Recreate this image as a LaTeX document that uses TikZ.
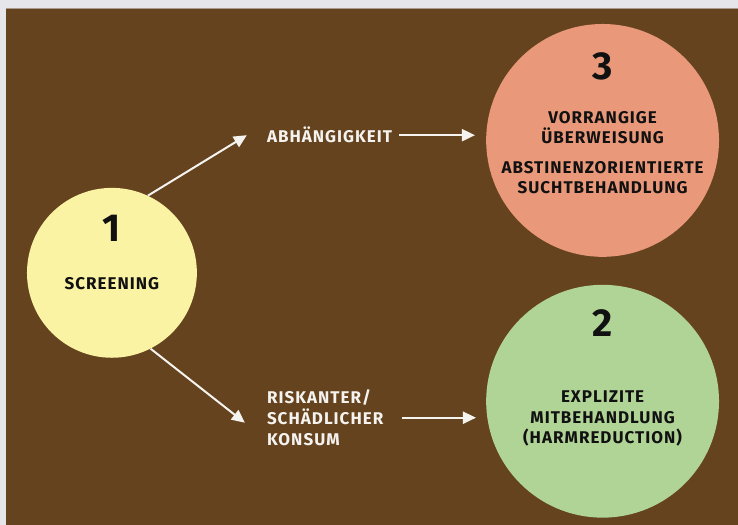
\documentclass[tikz,border=0pt]{standalone}
\usepackage{fontspec}
\setmainfont{Fira Sans}
\newfontfamily\spacedfont{Fira Sans}[LetterSpace=6]
\usepackage{tikz}
\usetikzlibrary{arrows.meta}
\definecolor{bgbrown}{HTML}{65431E}
\definecolor{bggrey}{HTML}{E6E6EA}
\definecolor{topline}{HTML}{A89A8C}
\definecolor{screenyellow}{HTML}{F9F3A3}
\definecolor{depsalmon}{HTML}{EA987A}
\definecolor{harmgreen}{HTML}{B0D396}
\definecolor{ink}{HTML}{111111}
\definecolor{paper}{HTML}{F5F3EF}

\begin{document}
\begin{tikzpicture}[x=1pt,y=-1pt,
    stage/.style={circle,inner sep=0pt},
    num/.style={inner sep=0pt,text=ink,font=\bfseries\fontsize{39}{39}\selectfont},
    txt/.style={inner sep=0pt,text=ink,align=center,font=\spacedfont\bfseries\fontsize{17}{20.5}\selectfont},
    lbl/.style={inner sep=0pt,text=paper,align=left,font=\spacedfont\bfseries\fontsize{17}{21.5}\selectfont},
    arr/.style={draw=paper,line width=2pt,-{Triangle[length=13pt,width=12pt]}}]
		% background
		\fill[bggrey] (0,0) rectangle (738,525);
		\fill[bgbrown] (6,9) rectangle (738,525);
		\draw[topline,line width=1pt] (6,8.5) -- (738,8.5);
		% stages
		\node[stage,fill=screenyellow,minimum size=170pt] (screen) at (112,273) {};
		\node[stage,fill=depsalmon,minimum size=233pt] (dep) at (603,140.5) {};
		\node[stage,fill=harmgreen,minimum size=233pt] (harm) at (603,401.5) {};
		\node[num] (n1) at (112,228.5) {1};
		\node[num] (n3) at (603,66.5) {3};
		\node[num] (n2) at (603,323.5) {2};
		\node[txt] (t1) at (112,283.5) {SCREENING};
		\node[txt] (t3) at (603,152.5) {VORRANGIGE\\ÜBERWEISUNG\\[9pt]ABSTINENZORIENTIERTE\\SUCHTBEHANDLUNG};
		\node[txt] (t2) at (603,419) {EXPLIZITE\\MITBEHANDLUNG\\(HARMREDUCTION)};
		% labels
		\node[lbl,anchor=base west] (abh) at (267,143) {ABHÄNGIGKEIT};
		\node[lbl,anchor=west] (risk) at (267,418) {RISKANTER/\\SCHÄDLICHER\\KONSUM};
		% arrows
		\draw[arr] (screen.65) -- ([xshift=-20pt]abh.west);
		\draw[arr] (screen.-63) -- ([xshift=-22pt,yshift=-5pt]risk.west);
		\draw[arr,shorten <=7pt,shorten >=11pt] (abh.east) -- (abh.east -| dep.west);
		\draw[arr,shorten <=19pt,shorten >=10pt] (risk.east) -- (risk.east -| harm.west);
	\end{tikzpicture}
\end{document}
